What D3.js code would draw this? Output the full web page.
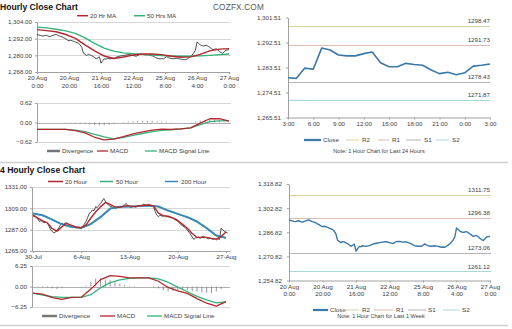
<!DOCTYPE html>
<html>
<head>
<meta charset="utf-8">
<script src="https://cdn.jsdelivr.net/npm/d3@7"></script>
<style>
  body { margin: 0; background: #fff; }
  svg { display: block; }
</style>
</head>
<body>
<svg id="chart" width="512" height="329"></svg>
<script>
// ---------- Hourly data, 20 Aug 0:00 to 27 Aug 0:00 (121 hourly closes) ----------
const weekClose = [
  1295.0, 1294.6, 1294.4, 1294.0, 1293.9, 1294.3, 1294.4, 1293.8, 1293.5, 1294.0,
  1294.4, 1294.8, 1295.0, 1294.3, 1293.9, 1293.6, 1293.1, 1292.4, 1291.9, 1291.0,
  1290.5, 1290.8, 1290.5, 1290.0, 1289.6, 1289.1, 1288.6, 1287.5, 1285.7, 1281.5,
  1280.8, 1279.9, 1280.6, 1280.4, 1279.8, 1279.3, 1278.4, 1277.5, 1278.2, 1278.9,
  1274.4, 1276.0, 1277.5, 1277.2, 1277.9, 1277.6, 1277.5, 1277.8, 1277.9, 1278.4,
  1278.9, 1279.2, 1279.5, 1279.7, 1279.9, 1280.1, 1280.3, 1280.5, 1280.6, 1280.2,
  1279.9, 1279.6, 1279.3, 1280.0, 1280.6, 1280.7, 1280.8, 1280.5, 1280.3, 1280.4,
  1280.4, 1279.9, 1279.6, 1279.1, 1278.5, 1277.9, 1277.7, 1277.5, 1277.6, 1277.5,
  1278.2, 1279.1, 1278.4, 1277.9, 1277.7, 1277.5, 1277.7, 1277.9, 1277.6, 1277.5,
  1277.2, 1276.9, 1277.0, 1276.9, 1277.5, 1278.3, 1279.2, 1280.3, 1281.8, 1283.7,
  1289.6, 1288.6, 1287.6, 1287.0, 1286.7, 1287.0, 1287.2, 1286.5, 1285.7, 1284.9,
  1284.1, 1284.4, 1284.7, 1283.8, 1282.8, 1282.0, 1281.4, 1282.5, 1283.7, 1283.9,
  1284.1
];
const weekTickHours = [0, 20, 40, 60, 80, 100, 120];
const weekTickLabels = [
  ["20 Aug", "0:00"], ["20 Aug", "20:00"], ["21 Aug", "16:00"], ["22 Aug", "12:00"],
  ["25 Aug", "8:00"], ["26 Aug", "4:00"], ["27 Aug", "0:00"]
];

// moving averages, sampled every 6 hours
const maHours = [0, 6, 12, 18, 24, 30, 36, 42, 48, 54, 60, 66, 72, 78, 84, 90, 96, 102, 108, 114, 120];
const ma20Hr = [1298.5, 1297.8, 1297.0, 1295.0, 1292.2, 1287.5, 1283.2, 1279.5, 1277.7, 1278.8,
  1280.2, 1281.0, 1281.0, 1280.5, 1279.3, 1278.6, 1278.9, 1280.7, 1283.2, 1284.5, 1284.8];
const ma50Hr = [1300.3, 1299.8, 1298.8, 1297.6, 1295.8, 1292.6, 1288.6, 1285.2, 1283.0, 1281.8,
  1281.2, 1280.7, 1280.2, 1279.8, 1279.5, 1279.3, 1279.3, 1279.6, 1280.0, 1280.5, 1281.0];

// hourly MACD, sampled every 6 hours; divergence every 3 hours
const macdHr = [-0.22, -0.22, -0.22, -0.22, -0.26, -0.33, -0.47, -0.55, -0.53, -0.45,
  -0.36, -0.30, -0.24, -0.21, -0.22, -0.20, -0.17, -0.02, 0.12, 0.12, 0.04];
const signalHr = [-0.22, -0.22, -0.22, -0.22, -0.24, -0.29, -0.38, -0.46, -0.52, -0.47,
  -0.41, -0.35, -0.29, -0.25, -0.23, -0.20, -0.17, -0.07, 0.03, 0.05, 0.06];
const divHours = d3.range(0, 121, 3);
const divergenceHr = [0, 0, 0, 0, 0, 0, -0.01, -0.01, -0.02, -0.03, -0.04,
  -0.06, -0.08, -0.09, -0.09, -0.07, -0.03, 0.00, 0.02, 0.03, 0.04,
  0.05, 0.05, 0.05, 0.05, 0.04, 0.03, 0.02, 0.01, 0.00, 0.00,
  0.00, 0.01, 0.03, 0.06, 0.08, 0.09, 0.08, 0.06, 0.02, -0.01];

// ---------- Last 24 hours ----------
const dayClose = [1279.8, 1279.6, 1283.3, 1282.9, 1290.5, 1289.8, 1288.0, 1287.7, 1287.7, 1288.5,
  1289.1, 1285.2, 1283.8, 1283.8, 1285.0, 1284.6, 1284.3, 1282.6, 1281.3, 1281.8,
  1280.9, 1281.6, 1284.0, 1284.3, 1284.8];
const dayTickHours = [0, 3, 6, 9, 12, 15, 18, 21, 24];
const dayTickLabels = ["3:00", "6:00", "9:00", "12:00", "15:00", "18:00", "21:00", "0:00", "3:00"];
const levelNames = ["R2", "R1", "S1", "S2"];
const dayLevels = [1298.47, 1291.73, 1278.43, 1271.87];
const weekLevels = [1311.75, 1296.38, 1273.06, 1261.12];

// ---------- 4-hour data, 30 Jul to 27 Aug (122 bars) ----------
const fourHourClose = [
  1302.2, 1301.5, 1300.5, 1298.0, 1295.5, 1296.5, 1295.0, 1294.2, 1294.8, 1293.8,
  1290.5, 1287.0, 1285.0, 1283.6, 1284.5, 1286.8, 1288.7, 1291.5, 1293.8, 1292.6,
  1294.0, 1293.8, 1292.5, 1291.6, 1290.4, 1291.2, 1289.5, 1288.7, 1290.0, 1288.7,
  1289.5, 1290.4, 1292.8, 1295.5, 1299.5, 1303.9, 1305.0, 1307.3, 1306.5, 1310.7,
  1309.8, 1312.0, 1314.1, 1316.5, 1319.1, 1316.2, 1314.1, 1312.5, 1311.0, 1310.7,
  1309.5, 1309.8, 1309.0, 1310.5, 1309.6, 1310.0, 1311.8, 1312.5, 1314.1, 1311.6,
  1310.7, 1309.9, 1310.6, 1311.2, 1310.0, 1311.5, 1312.3, 1311.0, 1312.4, 1313.5,
  1312.0, 1312.4, 1313.0, 1311.8, 1312.4, 1310.5, 1305.6, 1302.0, 1300.5, 1301.8,
  1301.2, 1300.8, 1301.5, 1300.2, 1300.5, 1299.6, 1299.3, 1298.9, 1297.5, 1296.8,
  1295.5, 1294.0, 1292.1, 1291.0, 1289.8, 1288.7, 1286.5, 1284.5, 1282.0, 1279.5,
  1276.9, 1278.5, 1278.6, 1279.3, 1278.0, 1279.6, 1280.2, 1279.2, 1278.6, 1277.6,
  1278.3, 1277.6, 1276.9, 1277.8, 1276.5, 1277.6, 1276.8, 1288.7, 1287.0, 1285.3,
  1284.5, 1283.6
];
const fourHourTicks = [0, 30, 60, 90, 120];
const fourHourTickLabels = ["30-Jul", "6-Aug", "13-Aug", "20-Aug", "27-Aug"];

const ma20Bars = d3.range(0, 121, 3);
const ma20Four = [1301.5, 1299.0, 1296.0, 1294.0, 1288.0, 1285.5, 1290.0, 1293.5, 1291.5, 1289.5,
  1289.0, 1292.0, 1299.0, 1305.5, 1310.5, 1315.0, 1313.0, 1310.5, 1310.0, 1311.5,
  1311.5, 1310.8, 1311.5, 1312.2, 1312.5, 1311.5, 1304.0, 1301.5, 1300.8, 1299.2,
  1296.5, 1292.5, 1288.5, 1283.0, 1279.0, 1279.0, 1279.0, 1278.0, 1277.3, 1280.0, 1284.5];
const slowBars = d3.range(0, 121, 6);
const ma50Four = [1303.5, 1301.6, 1297.0, 1292.3, 1289.6, 1288.9, 1293.2, 1300.4, 1308.8, 1310.6,
  1310.8, 1311.2, 1311.8, 1310.6, 1306.4, 1303.0, 1299.6, 1295.0, 1288.2, 1280.6, 1278.4];
const ma200Four = [1303.9, 1302.0, 1297.5, 1292.6, 1289.8, 1288.8, 1292.8, 1299.8, 1308.6, 1310.7,
  1310.8, 1311.2, 1311.8, 1311.0, 1306.8, 1303.4, 1300.0, 1295.5, 1288.7, 1281.0, 1278.5];

const macdFour = [-2.05, -2.35, -3.4, -3.9, -3.3, -3.25, -0.8, 2.1, 3.3, 3.1,
  2.6, 2.6, 2.6, 1.6, -0.3, -1.3, -2.1, -3.7, -5.1, -6.0, -4.6];
const signalFour = [-2.05, -2.6, -3.1, -3.3, -3.3, -3.3, -2.5, -0.4, 1.2, 2.0,
  2.5, 2.6, 2.6, 2.3, 1.3, -0.2, -1.6, -3.0, -4.1, -5.0, -4.7];
const divergenceFour = [0, 0.1, 0.2, -0.3, -0.6, -0.8, -0.5, 0, 0, 0,
  0.1, 0.3, 1.5, 2.4, 2.5, 2.2, 1.9, 1.3, 0.9, 0.5,
  0.2, 0.1, 0, 0, 0, -0.2, -0.6, -1.2, -1.5, -1.4,
  -1.2, -1.0, -1.2, -1.5, -1.6, -1.8, -1.9, -2.0, -1.5, -0.8, 0.1];

// ---------- drawing ----------
const FONT = '"Liberation Sans", Arial, sans-serif';
const AXIS = "#a0a0a0", GRID = "#d6d6d6", TXT = "#404040";
const RED = "#b3282d", GREEN = "#35b27a", BLUE = "#3b87bd", CLOSE = "#3a78a8", DIV = "#8a8a8a";
const levelColors = ["#d9d2a6", "#dcbcb4", "#b4b4b4", "#a9d9d6"];

const svg = d3.select("#chart");
const fmtComma = d3.format(",.2f"), fmtPlain = d3.format(".2f");

function styleAxis(g) {
  g.attr("font-family", FONT).attr("font-size", 6.2);
  g.select(".domain").attr("stroke", AXIS);
  g.selectAll(".tick line").attr("stroke", AXIS);
  g.selectAll(".tick text").attr("fill", TXT);
}
function leftAxis(y, ticks, fmt, x, pad) {
  svg.append("g").attr("transform", `translate(${x},0)`)
    .call(d3.axisLeft(y).tickValues(ticks).tickFormat(fmt).tickSize(2).tickSizeOuter(0).tickPadding(pad || 3))
    .call(styleAxis);
}
function hLines(y, values, x0, x1, color) {
  svg.append("g").selectAll("line").data(values).join("line")
    .attr("x1", x0).attr("x2", x1)
    .attr("y1", d => Math.round(y(d)) + 0.5).attr("y2", d => Math.round(y(d)) + 0.5)
    .attr("stroke", color).attr("stroke-width", 1);
}
function bottomAxis(x, ticks, yPos, labels, gap) {
  const g = svg.append("g").attr("transform", `translate(0,${yPos})`)
    .call(d3.axisBottom(x).tickValues(ticks).tickFormat("").tickSize(2).tickSizeOuter(0))
    .call(styleAxis);
  g.selectAll(".tick").each(function (d, i) {
    const t = d3.select(this).select("text").text(null).attr("y", 4).attr("dy", "0.71em");
    [].concat(labels[i]).forEach((s, k) => t.append("tspan").attr("x", 0).attr("dy", k ? gap : "0.71em").text(s));
  });
}
function path(xs, ys, x, y, color, w) {
  svg.append("path").datum(d3.zip(xs, ys))
    .attr("fill", "none").attr("stroke", color).attr("stroke-width", w)
    .attr("stroke-linejoin", "round")
    .attr("d", d3.line().x(d => x(d[0])).y(d => y(d[1])));
}
function bars(xs, ys, x, y) {
  svg.append("g").selectAll("line").data(d3.zip(xs, ys)).join("line")
    .attr("x1", d => x(d[0])).attr("x2", d => x(d[0]))
    .attr("y1", y(0)).attr("y2", d => y(d[1]))
    .attr("stroke", DIV).attr("stroke-width", 0.9);
}
function legend(items, y, size) {
  const g = svg.append("g").attr("font-family", FONT).attr("font-size", size || 6.2).attr("fill", TXT);
  items.forEach(it => {
    g.append("line").attr("x1", it.x0).attr("x2", it.x1).attr("y1", y).attr("y2", y)
      .attr("stroke", it.color).attr("stroke-width", it.w);
    g.append("text").attr("x", it.tx).attr("y", y).attr("dy", "0.35em").text(it.label);
  });
}
function text(s, x, y, opts) {
  const t = svg.append("text").attr("x", x).attr("y", y).attr("font-family", FONT).text(s);
  Object.entries(opts || {}).forEach(([k, v]) => t.attr(k, v));
  return t;
}

// titles
text("Hourly Close Chart", 0, 10, { "font-size": 8.6, "font-weight": "bold", fill: "#111" });
text("COZFX.COM", 213, 9.5, { "font-size": 8.2, fill: "#555", "letter-spacing": 0.2 });
text("4 Hourly Close Chart", 0, 172.5, { "font-size": 8.6, "font-weight": "bold", fill: "#111" });

// section separators
svg.append("line").attr("x1", 0).attr("x2", 508).attr("y1", 162.5).attr("y2", 162.5).attr("stroke", "#cfcfcf").attr("stroke-width", 1.5);
svg.append("line").attr("x1", 0).attr("x2", 508).attr("y1", 325.5).attr("y2", 325.5).attr("stroke", "#cfcfcf").attr("stroke-width", 1.5);

// ===== Hourly close chart (top left) =====
{
  const x = d3.scaleLinear().domain([0, 120]).range([37, 229]);
  const y = d3.scaleLinear().domain([1268, 1304]).range([72, 22]);
  const ticks = [1268, 1280, 1292, 1304];
  hLines(y, ticks, 37, 231, GRID);
  leftAxis(y, ticks, fmtComma, 37);
  bottomAxis(x, weekTickHours, 72, weekTickLabels, 7.3);
  path(d3.range(weekClose.length), weekClose, x, y, "#222", 0.8);
  path(maHours, ma50Hr, x, y, GREEN, 1.4);
  path(maHours, ma20Hr, x, y, RED, 1.4);
  legend([
    { x0: 77, x1: 88, color: RED, w: 1.5, tx: 90, label: "20 Hr MA" },
    { x0: 134, x1: 145, color: GREEN, w: 1.5, tx: 147, label: "50 Hrs MA" }
  ], 15.7);

  const ym = d3.scaleLinear().domain([-0.62, 0.62]).range([142, 103]);
  hLines(ym, [-0.62, 0.62], 37, 231, GRID);
  hLines(ym, [0], 37, 231, "#b0b0b0");
  leftAxis(ym, [-0.62, 0, 0.62], fmtPlain, 37);
  bars(divHours, divergenceHr, x, ym);
  path(maHours, signalHr, x, ym, GREEN, 1.3);
  path(maHours, macdHr, x, ym, RED, 1.3);
  legend([
    { x0: 47, x1: 60, color: "#777", w: 2.5, tx: 62, label: "Divergence" },
    { x0: 97, x1: 108, color: RED, w: 1.3, tx: 110, label: "MACD" },
    { x0: 145, x1: 157, color: GREEN, w: 1.3, tx: 159, label: "MACD Signal Line" }
  ], 151);
}

// ===== Last 24 hours (top right) =====
{
  const x = d3.scaleLinear().domain([0, 24]).range([288, 490]);
  const y = d3.scaleLinear().domain([1265.51, 1301.51]).range([117.5, 17.5]);
  leftAxis(y, [1265.51, 1274.51, 1283.51, 1292.51, 1301.51], fmtComma, 288, 5);
  bottomAxis(x, dayTickHours, 117.5, dayTickLabels, 7);
  dayLevels.forEach((v, i) => {
    hLines(y, [v], 289, 490, levelColors[i]);
    text(fmtPlain(v), 490, y(v) - 2.5, { "font-size": 6.2, fill: TXT, "text-anchor": "end" });
  });
  path(d3.range(dayClose.length), dayClose, x, y, CLOSE, 1.6);
  legend([
    { x0: 304, x1: 321, color: CLOSE, w: 2.2, tx: 323, label: "Close" },
    { x0: 346, x1: 359, color: levelColors[0], w: 1, tx: 362, label: levelNames[0] },
    { x0: 378, x1: 389, color: levelColors[1], w: 1, tx: 392, label: levelNames[1] },
    { x0: 406, x1: 421, color: levelColors[2], w: 1, tx: 424, label: levelNames[2] },
    { x0: 436, x1: 449, color: levelColors[3], w: 1, tx: 452, label: levelNames[3] }
  ], 140);
  text("Note: 1 Hour Chart for Last 24 Hours", 379, 151, { "font-size": 5.6, fill: TXT, "text-anchor": "middle", dy: "0.35em" });
}

// ===== 4 hourly close chart (bottom left) =====
{
  const x = d3.scaleLinear().domain([-0.6, 122.5]).range([32, 230]);
  const y = d3.scaleLinear().domain([1265, 1331]).range([251, 187]);
  const ticks = [1265, 1287, 1309, 1331];
  hLines(y, ticks, 32, 230, GRID);
  leftAxis(y, ticks, fmtPlain, 32);
  bottomAxis(x, fourHourTicks, 251, fourHourTickLabels, 7);
  path(d3.range(fourHourClose.length), fourHourClose, x, y, "#222", 0.8);
  path(slowBars, ma50Four, x, y, GREEN, 1.4);
  path(slowBars, ma200Four, x, y, BLUE, 1.8);
  path(ma20Bars, ma20Four, x, y, RED, 1.4);
  legend([
    { x0: 48, x1: 63, color: RED, w: 1.5, tx: 65, label: "20 Hour" },
    { x0: 100, x1: 113, color: GREEN, w: 1.5, tx: 116, label: "50 Hour" },
    { x0: 165, x1: 178, color: BLUE, w: 1.5, tx: 181, label: "200 Hour" }
  ], 181.5);

  const ym = d3.scaleLinear().domain([-6.25, 6.25]).range([307, 266]);
  hLines(ym, [-6.25, 6.25], 32, 230, GRID);
  hLines(ym, [0], 32, 230, "#b0b0b0");
  leftAxis(ym, [-6.25, 0, 6.25], fmtPlain, 32);
  bars(ma20Bars, divergenceFour, x, ym);
  path(slowBars, signalFour, x, ym, GREEN, 1.3);
  path(slowBars, macdFour, x, ym, RED, 1.3);
  legend([
    { x0: 42, x1: 57, color: "#777", w: 2.5, tx: 59, label: "Divergence" },
    { x0: 100, x1: 115, color: RED, w: 1.3, tx: 117, label: "MACD" },
    { x0: 147, x1: 162, color: GREEN, w: 1.3, tx: 164, label: "MACD Signal Line" }
  ], 316);
}

// ===== Last week, hourly (bottom right) =====
{
  const x = d3.scaleLinear().domain([0, 120]).range([289, 490]);
  const y = d3.scaleLinear().domain([1254.82, 1318.82]).range([280.5, 184]);
  leftAxis(y, [1254.82, 1270.82, 1286.82, 1302.82, 1318.82], fmtComma, 289, 5);
  bottomAxis(x, weekTickHours, 280.5, weekTickLabels, 7.3);
  weekLevels.forEach((v, i) => {
    hLines(y, [v], 290, 491, levelColors[i]);
    text(fmtPlain(v), 490, y(v) - 2.5, { "font-size": 6.2, fill: TXT, "text-anchor": "end" });
  });
  path(d3.range(weekClose.length), weekClose, x, y, CLOSE, 1.4);
  legend([
    { x0: 313, x1: 328, color: CLOSE, w: 2.2, tx: 330, label: "Close" },
    { x0: 343, x1: 359, color: levelColors[0], w: 1, tx: 362, label: levelNames[0] },
    { x0: 374, x1: 393, color: levelColors[1], w: 1, tx: 396, label: levelNames[1] },
    { x0: 408, x1: 426, color: levelColors[2], w: 1, tx: 428, label: levelNames[2] },
    { x0: 443, x1: 459, color: levelColors[3], w: 1, tx: 462, label: levelNames[3] }
  ], 310);
  text("Note: 1 Hour Chart for Last 1 Week", 381, 316.5, { "font-size": 5.6, fill: TXT, "text-anchor": "middle", dy: "0.35em" });
}
</script>
</body>
</html>
